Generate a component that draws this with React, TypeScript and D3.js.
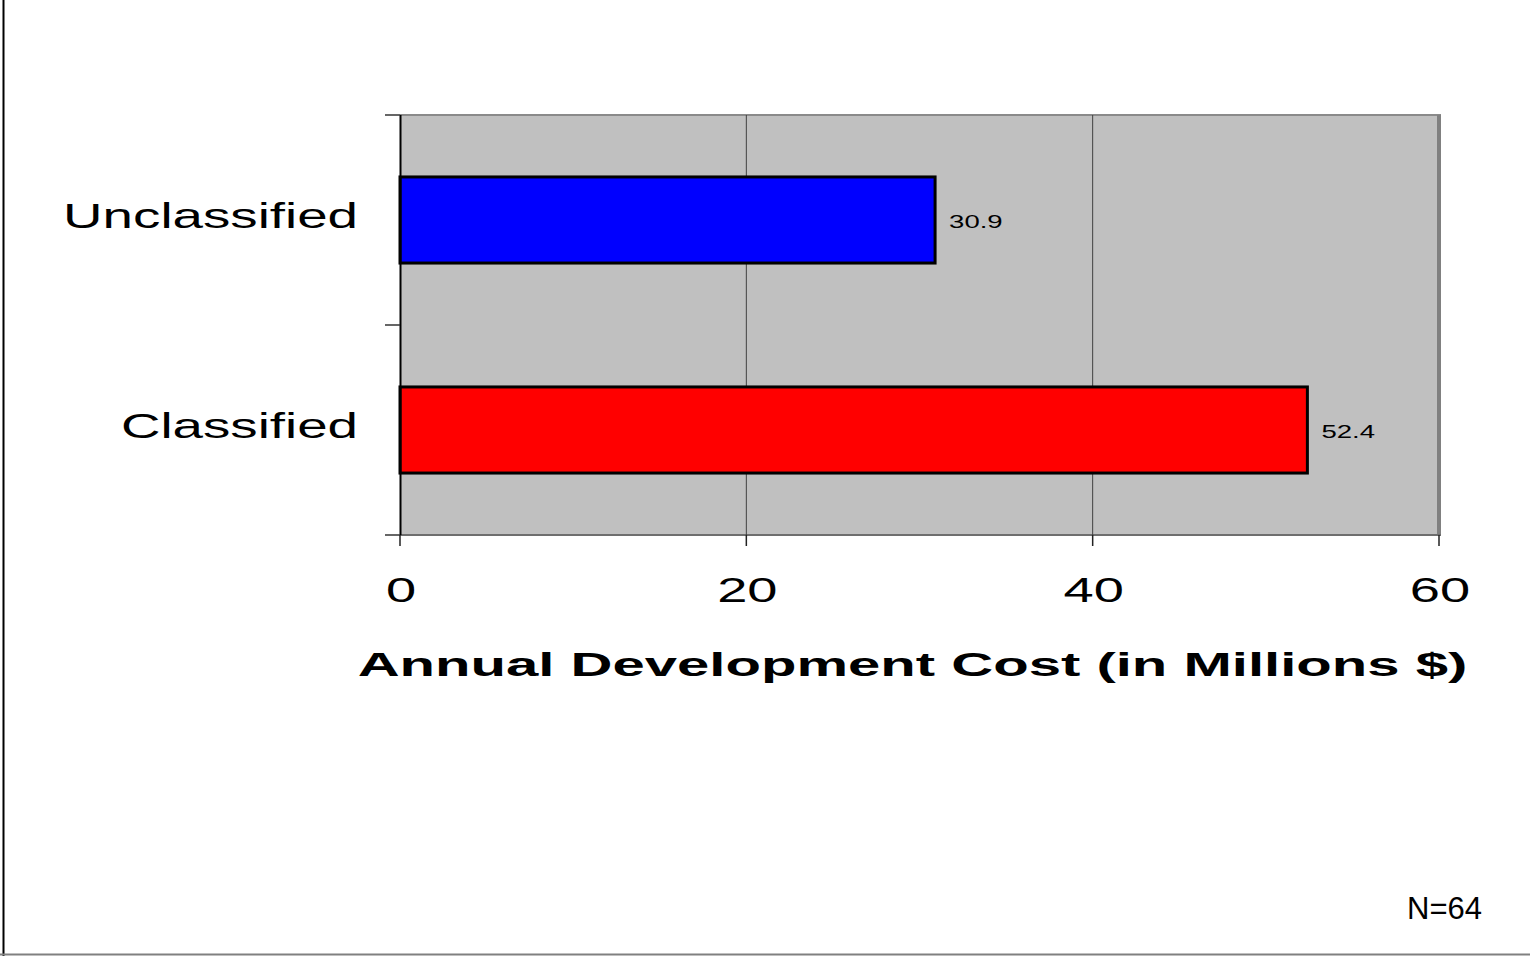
import React from "react";
import * as d3 from "d3";

const categories = ["Unclassified", "Classified"];
const values = [30.9, 52.4];
const barColors = ["#0000ff", "#ff0000"];
const xTicks = [0, 20, 40, 60];
const xTitle = "Annual Development Cost (in Millions $)";
const note = "N=64";

const W = 1530;
const H = 956;
const FONT = "Arial, 'Liberation Sans', sans-serif";

function STxt(props: {
  x: number; y: number; sx: number; size: number; anchor?: string; weight?: string | number; children: React.ReactNode;
}) {
  const { x, y, sx, size, anchor = "start", weight = "normal", children } = props;
  return (
    <text
      transform={`translate(${x},${y}) scale(${sx},1)`}
      textAnchor={anchor as any}
      fontSize={size}
      fontFamily={FONT}
      fontWeight={weight as any}
      fill="#000"
    >
      {children}
    </text>
  );
}

export default function App() {
  const left = 400, right = 1439, top = 115, bottom = 535;
  const x = d3.scaleLinear().domain([0, 60]).range([left, right]);
  const y = d3.scaleBand<string>().domain(categories).range([top, bottom]).padding(0);
  const barH = y.bandwidth() * 0.41;
  const gridVals = xTicks.filter((t) => t > 0 && t < 60);
  const catEdges = [top, ...categories.map((c) => (y(c) as number) + y.bandwidth())];

  return (
    <svg
      width={W}
      height={H}
      style={{ position: "fixed", left: 0, top: 0, background: "#fff" }}
    >
      {/* frame */}
      <line x1={3.5} y1={0} x2={3.5} y2={H} stroke="#000" strokeWidth={2} />
      <line x1={0} y1={954.5} x2={W} y2={954.5} stroke="#808080" strokeWidth={2} />

      {/* plot area */}
      <rect x={left} y={top} width={right - left} height={bottom - top} fill="#c0c0c0" />
      <line x1={left} y1={top} x2={right + 2} y2={top} stroke="#8a8a8a" strokeWidth={2} />
      <line x1={right} y1={top} x2={right} y2={bottom} stroke="#808080" strokeWidth={4} />
      <line x1={left} y1={bottom} x2={right + 2} y2={bottom} stroke="#6e6e6e" strokeWidth={2} />

      {/* gridlines */}
      {gridVals.map((t) => (
        <line key={t} x1={x(t)} x2={x(t)} y1={top} y2={bottom} stroke="#404040" strokeWidth={1} />
      ))}

      {/* bars */}
      {categories.map((c, i) => {
        const yc = (y(c) as number) + y.bandwidth() / 2;
        return (
          <g key={c}>
            <rect
              x={x(0)}
              y={yc - barH / 2}
              width={x(values[i]) - x(0)}
              height={barH}
              fill={barColors[i]}
              stroke="#000"
              strokeWidth={3}
            />
            <STxt x={x(values[i]) + 14} y={yc + 8} sx={1.45} size={19}>
              {values[i].toFixed(1)}
            </STxt>
            <STxt x={358} y={yc + 8} sx={1.52} size={36} anchor="end">
              {c}
            </STxt>
          </g>
        );
      })}

      {/* y axis */}
      <line x1={left + 0.5} y1={top} x2={left + 0.5} y2={bottom} stroke="#000" strokeWidth={2} />
      {catEdges.map((e, i) => (
        <line key={i} x1={385} x2={left} y1={e} y2={e} stroke="#333" strokeWidth={1.5} />
      ))}

      {/* x axis ticks */}
      {xTicks.map((t) => (
        <g key={t}>
          <line x1={x(t)} x2={x(t)} y1={bottom} y2={bottom + 11} stroke="#222" strokeWidth={1.5} />
          <STxt x={x(t) + 1} y={602} sx={1.55} size={35} anchor="middle">
            {t}
          </STxt>
        </g>
      ))}

      <STxt x={(357 + 1468) / 2} y={676} sx={1.76} size={33} anchor="middle" weight="bold">
        {xTitle}
      </STxt>

      <text x={1407} y={919} fontSize={31} fontFamily={FONT} fill="#000">
        {note}
      </text>
    </svg>
  );
}
